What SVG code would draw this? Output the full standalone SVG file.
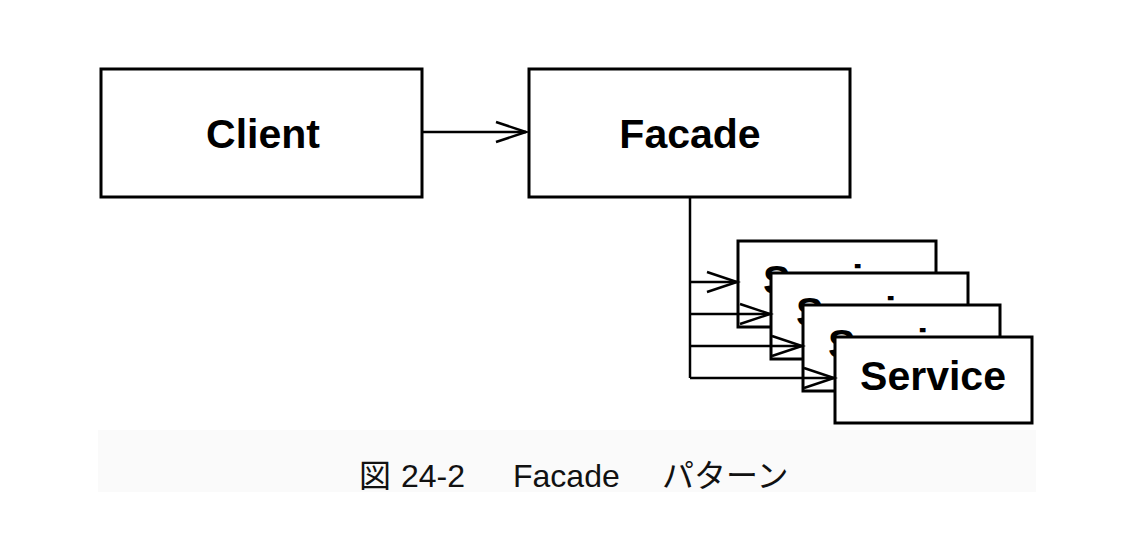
<svg xmlns="http://www.w3.org/2000/svg" width="1122" height="554" viewBox="0 0 1122 554">
<style>
.box{fill:#fff;stroke:#000;stroke-width:3}
.lbl{font-family:"Liberation Sans",Arial,sans-serif;font-weight:bold;font-size:41px;fill:#000;text-anchor:middle}
.con{fill:none;stroke:#000;stroke-width:2.5}
.cap{font-family:"Liberation Sans","Noto Sans CJK JP",sans-serif;font-size:32px;fill:#111}
</style>
<defs>
<marker id="open" markerUnits="userSpaceOnUse" markerWidth="40" markerHeight="30" refX="0" refY="0" viewBox="-34 -15 40 30" orient="auto" overflow="visible">
<path d="M-30,-10 L0,0 L-30,10" fill="none" stroke="#000" stroke-width="2.5"/>
</marker>
</defs>
<rect x="0" y="0" width="1122" height="554" fill="#fff"/>
<rect x="98" y="430" width="938" height="62" fill="#fafafa"/>
<g id="client">
<rect class="box" x="101" y="69" width="321" height="128"/>
<text class="lbl" x="263" y="148">Client</text>
</g>
<g id="facade">
<rect class="box" x="529" y="69" width="321" height="128"/>
<text class="lbl" x="690" y="148">Facade</text>
</g>
<g id="service1">
<rect class="box" x="738" y="241" width="198" height="86"/>
<text class="lbl" x="836" y="294">Service</text>
</g>
<g id="service2">
<rect class="box" x="771" y="273" width="197" height="86"/>
<text class="lbl" x="869" y="326">Service</text>
</g>
<g id="service3">
<rect class="box" x="803" y="305" width="197" height="86"/>
<text class="lbl" x="901" y="358">Service</text>
</g>
<g id="service4">
<rect class="box" x="835" y="337" width="197" height="86"/>
<text class="lbl" x="933" y="390">Service</text>
</g>
<g id="connectors">
<path class="con" d="M422,132 L526,132" marker-end="url(#open)"/>
<path class="con" d="M690,197 L690,378"/>
<path class="con" d="M690,282 L737,282" marker-end="url(#open)"/>
<path class="con" d="M690,314 L770,314" marker-end="url(#open)"/>
<path class="con" d="M690,346 L802,346" marker-end="url(#open)"/>
<path class="con" d="M690,378 L834,378" marker-end="url(#open)"/>
</g>
<g id="caption">
<text class="cap" x="359" y="487">図</text>
<text class="cap" x="401" y="487">24-2</text>
<text class="cap" x="513" y="487">Facade</text>
<text class="cap" x="662" y="487" font-family="'Noto Sans CJK JP',sans-serif">パターン</text>
</g>
</svg>
